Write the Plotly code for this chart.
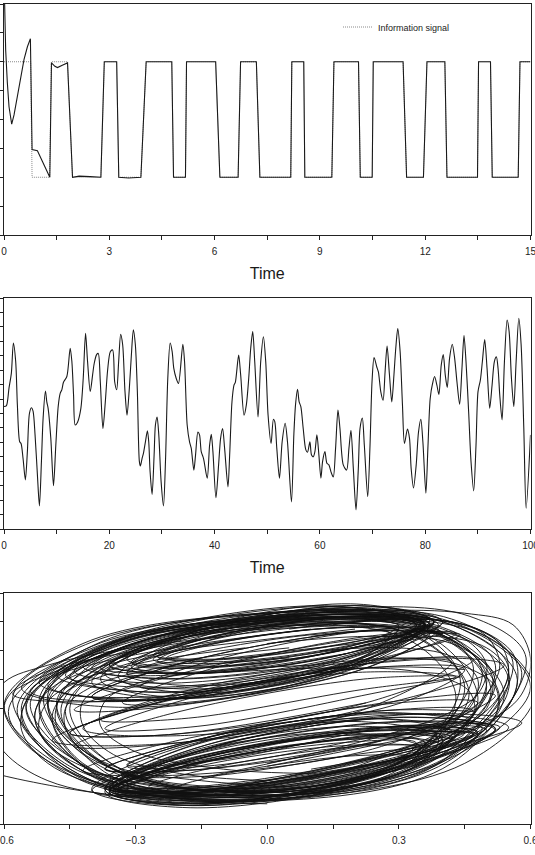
import plotly.graph_objects as go

# ---------------- Panel 1 : information signal vs recovered signal ----------------
info_t = [0, 0.76, 0.80, 1.30, 1.35, 1.81, 1.95, 2.76, 2.86, 3.21, 3.27, 3.90, 4.05, 4.78, 4.83,
          5.17, 5.20, 6.03, 6.15, 6.67, 6.74, 7.19, 7.29, 8.17, 8.20, 8.54, 8.57, 9.34, 9.40,
          10.10, 10.15, 10.49, 10.52, 11.37, 11.47, 11.95, 12.05, 12.56, 12.62, 13.49, 13.52,
          13.86, 13.91, 14.65, 14.70, 15.0]
info_v = [1, 1, 0, 0, 1, 1, 0, 0, 1, 1, 0, 0, 1, 1, 0,
          0, 1, 1, 0, 0, 1, 1, 0, 0, 1, 1, 0, 0, 1,
          1, 0, 0, 1, 1, 0, 0, 1, 1, 0, 0, 1,
          1, 0, 0, 1, 1]

rec_t_start = [0.0, 0.048, 0.095, 0.143, 0.219, 0.286, 0.381, 0.476, 0.571, 0.667, 0.752, 0.80,
               0.952, 1.305, 1.352, 1.45, 1.524, 1.66, 1.81, 1.952, 2.14, 2.45, 2.76, 2.857,
               3.21, 3.27, 3.55, 3.90, 4.05, 4.78]
rec_v_start = [1.75, 1.10, 0.82, 0.61, 0.46, 0.54, 0.70, 0.87, 1.02, 1.13, 1.20, 0.24,
               0.23, 0.0, 0.99, 0.96, 0.95, 0.97, 0.99, 0.0, 0.01, 0.005, 0.0, 1.0,
               1.0, 0.0, -0.006, 0.0, 1.0, 1.0]

# ---------------- Panel 2 : chaotic carrier ----------------
chaos_t = [0.0, 0.44, 0.95, 1.40, 1.78, 2.22, 2.54, 2.98, 3.24, 3.62, 4.06, 4.44, 4.83, 5.21, 5.52,
           5.90, 6.35, 6.73, 7.11, 7.43, 7.87, 8.13, 8.38, 8.89, 9.40, 9.84, 10.29, 10.67, 10.98,
           11.30, 11.94, 12.57, 12.89, 13.21, 13.52, 13.97, 14.60, 15.05, 15.49, 15.87, 16.38,
           16.83, 17.14, 17.59, 17.90, 18.29, 18.79, 19.24, 19.68, 20.19, 20.63, 21.02, 21.40,
           21.78, 22.16, 22.54, 22.98, 23.37, 23.81, 24.19, 24.57, 24.95, 25.33, 25.71, 25.90,
           26.22, 26.48, 26.86, 27.24, 27.49, 27.75, 28.13, 28.51, 28.76, 29.08, 29.40, 29.84,
           30.29, 30.67, 31.11, 31.56, 31.94, 32.25, 32.70, 33.14, 33.97, 34.29, 34.79, 35.24,
           35.56, 36.06, 36.38, 36.83, 37.14, 37.46, 37.90, 38.60, 39.05, 39.37, 39.68, 40.25,
           40.76, 41.14, 41.52, 41.90, 42.54, 42.86, 43.30, 43.68, 43.94, 44.57, 44.95, 45.59,
           46.03, 46.48, 46.86, 47.24, 47.62, 48.25, 48.76, 49.27, 49.71, 50.16, 50.73, 51.17,
           51.43, 51.81, 52.32, 52.83, 53.40, 53.84, 54.60, 55.05, 55.37, 55.75, 56.06, 56.38,
           56.83, 57.33, 57.65, 58.10, 58.41, 58.73, 59.05, 59.43, 59.81, 60.19, 60.51, 60.95,
           61.33, 61.71, 62.10, 62.54, 62.98, 63.43, 63.81, 64.44, 65.08, 65.52, 65.90, 66.35,
           66.86, 67.30, 67.62, 68.06, 68.44, 69.08, 69.52, 69.90, 70.29, 70.79, 71.11, 71.56,
           72.00, 72.38, 72.76, 73.21, 73.65, 74.10, 74.41, 74.79, 75.24, 75.68, 76.06, 76.63,
           77.02, 77.33, 77.78, 78.29, 78.73, 79.17, 79.56, 80.13, 80.51, 80.95, 81.40, 81.78,
           82.22, 82.60, 83.05, 83.43, 83.81, 84.19, 84.63, 85.14, 85.59, 86.03, 86.54, 86.98,
           87.37, 87.75, 88.25, 88.70, 89.21, 89.65, 90.03, 90.48, 90.86, 91.30, 91.75, 92.25,
           92.70, 93.14, 93.52, 93.84, 94.16, 94.60, 95.05, 95.56, 95.94, 96.38, 96.83, 97.27,
           97.78, 98.22, 98.73, 99.17, 100.0]
chaos_v = [0.12, 0.13, 0.44, 0.70, 1.22, 0.90, 0.15, -0.49, -0.52, -0.78, -1.15, -0.66, 0.00, 0.10, 0.04,
           -0.37, -1.07, -1.60, -0.83, -0.08, 0.39, 0.20, 0.09, -0.43, -1.25, -0.55, 0.12, 0.35, 0.41,
           0.54, 0.64, 1.13, 0.90, 0.32, -0.20, -0.15, 0.09, 0.61, 1.39, 0.90, 0.38,
           0.67, 0.87, 1.02, 1.04, 0.55, -0.26, 0.20, 0.75, 1.07, 1.10, 0.55, 0.41,
           0.90, 1.37, 1.19, 0.38, -0.03, 0.44, 1.01, 1.45, 1.19, 0.38, -0.83, -0.91,
           -0.78, -0.69, -0.49, -0.30, -0.49, -1.01, -1.40, -0.72, -0.20, -0.06, -0.37, -1.18,
           -1.60, -0.83, 0.61, 1.22, 1.07, 0.78, 0.61, 0.52, 1.20, 0.90, -0.20, -0.49,
           -0.60, -0.98, -0.72, -0.32, -0.37, -0.66, -0.78, -1.12, -0.55, -0.36, -0.66, -1.46,
           -0.89, -0.43, -0.26, -0.60, -1.27, -0.72, 0.20, 0.49, 0.54, 1.01, 0.67, -0.03,
           0.15, 0.61, 1.13, 1.42, 0.90, -0.06, 0.90, 1.33, 0.90, -0.03, -0.52, -0.10,
           -0.14, -0.60, -1.12, -0.49, -0.17, -0.49, -1.53, -0.37, 0.15, 0.42, 0.20, 0.12,
           -0.26, -0.63, -0.67, -0.49, -0.72, -0.75, -0.66, -0.37, -0.72, -1.12, -0.83, -0.66,
           -0.86, -0.89, -1.01, -1.10, -0.60, 0.06, -0.26, -0.89, -0.98, -0.60, -0.29, -0.95,
           -1.67, -0.95, -0.26, -0.08, -0.55, -1.44, -0.55, 0.55, 0.97, 0.81, 0.72, 0.38,
           0.23, 0.72, 1.17, 0.67, 0.20, 0.72, 1.13, 1.47, 1.07, 0.15, -0.52, -0.27,
           -0.43, -0.95, -1.29, -0.89, -0.32, -0.10, -0.49, -1.38, -0.60, 0.26, 0.52, 0.64,
           0.49, 0.33, 0.84, 1.02, 0.67, 0.45, 0.96, 1.20, 0.96, 0.55, 0.16, 0.78,
           1.35, 0.90, 0.03, -0.83, -1.34, -0.55, 0.38, 0.58, 0.90, 1.28, 0.78, 0.09,
           0.49, 0.90, 0.98, 0.78, 0.32, -0.11, 0.90, 1.62, 1.42, 0.61, 0.12, 0.90,
           1.65, 1.19, -0.26, -1.64, -0.37]

# ---------------- Panel 3 : phase portrait (loops) ----------------
upper_loops = [
    [(0.35, 0.58), (0.185, 0.619), (-0.145, 0.489), (-0.31, 0.32), (-0.145, 0.281), (0.185, 0.411)],
    [(0.38, 0.60), (0.19, 0.725), (-0.19, 0.525), (-0.38, 0.20), (-0.19, 0.075), (0.19, 0.275)],
    [(0.36, 0.58), (0.18, 0.64), (-0.18, 0.50), (-0.36, 0.30), (-0.18, 0.24), (0.18, 0.38)],
    [(0.40, 0.60), (0.175, 0.698), (-0.275, 0.478), (-0.50, 0.16), (-0.275, 0.062), (0.175, 0.282)],
    [(0.36, 0.58), (0.17, 0.652), (-0.21, 0.502), (-0.40, 0.28), (-0.21, 0.208), (0.17, 0.358)],
    [(0.38, 0.60), (0.20, 0.713), (-0.16, 0.523), (-0.34, 0.22), (-0.16, 0.107), (0.20, 0.297)],
    [(0.34, 0.58), (0.19, 0.607), (-0.11, 0.487), (-0.26, 0.34), (-0.11, 0.313), (0.19, 0.433)],
    [(0.38, 0.60), (0.15, 0.67), (-0.31, 0.43), (-0.54, 0.12), (-0.31, 0.05), (0.15, 0.29)],
    [(0.36, 0.58), (0.16, 0.665), (-0.24, 0.505), (-0.44, 0.26), (-0.24, 0.175), (0.16, 0.335)],
    [(0.40, 0.60), (0.20, 0.712), (-0.20, 0.502), (-0.40, 0.18), (-0.20, 0.068), (0.20, 0.278)],
    [(0.37, 0.58), (0.185, 0.685), (-0.185, 0.515), (-0.37, 0.24), (-0.185, 0.135), (0.185, 0.305)],
    [(0.39, 0.58), (0.18, 0.69), (-0.24, 0.51), (-0.45, 0.22), (-0.24, 0.11), (0.18, 0.29)],
    [(0.36, 0.57), (0.15, 0.685), (-0.27, 0.515), (-0.48, 0.23), (-0.27, 0.115), (0.15, 0.285)],
    [(0.38, 0.60), (0.205, 0.683), (-0.145, 0.503), (-0.32, 0.24), (-0.145, 0.157), (0.205, 0.337)],
    [(0.30, 0.57), (0.16, 0.598), (-0.12, 0.498), (-0.26, 0.37), (-0.12, 0.342), (0.16, 0.442)],
    [(0.38, 0.60), (0.14, 0.648), (-0.34, 0.398), (-0.58, 0.10), (-0.34, 0.052), (0.14, 0.302)],
    [(0.37, 0.59), (0.20, 0.636), (-0.14, 0.486), (-0.31, 0.29), (-0.14, 0.244), (0.20, 0.394)],
    [(0.36, 0.57), (0.165, 0.656), (-0.225, 0.516), (-0.42, 0.29), (-0.225, 0.204), (0.165, 0.344)],
    [(0.36, 0.58), (0.14, 0.705), (-0.30, 0.505), (-0.52, 0.18), (-0.30, 0.055), (0.14, 0.255)],
    [(0.35, 0.60), (0.20, 0.635), (-0.10, 0.515), (-0.25, 0.36), (-0.10, 0.325), (0.20, 0.445)],
    [(0.35, 0.58), (0.175, 0.654), (-0.175, 0.524), (-0.35, 0.32), (-0.175, 0.246), (0.175, 0.376)],
    [(0.36, 0.60), (0.175, 0.633), (-0.195, 0.473), (-0.38, 0.28), (-0.195, 0.247), (0.175, 0.407)],
    [(0.36, 0.58), (0.13, 0.712), (-0.33, 0.492), (-0.56, 0.14), (-0.33, 0.008), (0.13, 0.228)],
    [(0.37, 0.61), (0.215, 0.644), (-0.095, 0.504), (-0.25, 0.33), (-0.095, 0.296), (0.215, 0.436)],
    [(0.36, 0.59), (0.155, 0.673), (-0.255, 0.493), (-0.46, 0.23), (-0.255, 0.147), (0.155, 0.327)],
    [(0.34, 0.58), (0.175, 0.633), (-0.155, 0.513), (-0.32, 0.34), (-0.155, 0.287), (0.175, 0.407)],
    [(0.36, 0.58), (0.18, 0.64), (-0.18, 0.50), (-0.36, 0.30), (-0.18, 0.24), (0.18, 0.38)],
]
upper_mid_loops = [
    [(0.40, 0.52), (0.20, 0.531), (-0.20, 0.311), (-0.40, 0.08), (-0.20, 0.069), (0.20, 0.289)],
    [(0.43, 0.52), (0.24, 0.504), (-0.14, 0.264), (-0.33, 0.04), (-0.14, 0.056), (0.24, 0.296)],
    [(0.37, 0.52), (0.16, 0.559), (-0.26, 0.359), (-0.47, 0.12), (-0.26, 0.081), (0.16, 0.281)],
    [(0.44, 0.51), (0.22, 0.484), (-0.22, 0.224), (-0.44, -0.01), (-0.22, 0.016), (0.22, 0.276)],
    [(0.39, 0.55), (0.22, 0.537), (-0.12, 0.337), (-0.29, 0.15), (-0.12, 0.163), (0.22, 0.363)],
    [(0.28, 0.52), (0.13, 0.519), (-0.17, 0.379), (-0.32, 0.24), (-0.17, 0.241), (0.13, 0.381)],
    [(0.29, 0.55), (0.16, 0.561), (-0.10, 0.461), (-0.23, 0.35), (-0.10, 0.339), (0.16, 0.439)],
    [(0.30, 0.54), (0.15, 0.558), (-0.15, 0.438), (-0.30, 0.30), (-0.15, 0.282), (0.15, 0.402)],
    [(0.40, 0.52), (0.20, 0.531), (-0.20, 0.311), (-0.40, 0.08), (-0.20, 0.069), (0.20, 0.289)],
]
center_loops = [
    [(0.45, 0.27), (0.225, 0.281), (-0.225, 0.061), (-0.45, -0.17), (-0.225, -0.181), (0.225, 0.039)],
    [(0.47, 0.34), (0.26, 0.324), (-0.16, 0.084), (-0.37, -0.14), (-0.16, -0.124), (0.26, 0.116)],
    [(0.43, 0.22), (0.20, 0.249), (-0.26, 0.029), (-0.49, -0.22), (-0.26, -0.249), (0.20, -0.029)],
    [(0.42, 0.32), (0.22, 0.307), (-0.18, 0.107), (-0.38, -0.08), (-0.18, -0.067), (0.22, 0.133)],
    [(0.44, 0.22), (0.22, 0.204), (-0.22, -0.036), (-0.44, -0.26), (-0.22, -0.244), (0.22, -0.004)],
    [(0.54, 0.30), (0.30, 0.346), (-0.18, 0.126), (-0.42, -0.14), (-0.18, -0.186), (0.30, 0.034)],
    [(0.45, 0.27), (0.225, 0.281), (-0.225, 0.061), (-0.45, -0.17), (-0.225, -0.181), (0.225, 0.039)],
]
lower_loops = [
    [(0.45, -0.17), (0.25, -0.152), (-0.15, -0.342), (-0.35, -0.55), (-0.15, -0.568), (0.25, -0.378)],
    [(0.47, -0.18), (0.26, -0.072), (-0.16, -0.272), (-0.37, -0.58), (-0.16, -0.688), (0.26, -0.488)],
    [(0.48, -0.17), (0.27, -0.131), (-0.15, -0.331), (-0.36, -0.57), (-0.15, -0.609), (0.27, -0.409)],
    [(0.52, -0.14), (0.30, -0.06), (-0.14, -0.28), (-0.36, -0.58), (-0.14, -0.66), (0.30, -0.44)],
    [(0.42, -0.20), (0.23, -0.195), (-0.15, -0.375), (-0.34, -0.56), (-0.15, -0.565), (0.23, -0.385)],
    [(0.43, -0.18), (0.23, -0.067), (-0.17, -0.257), (-0.37, -0.56), (-0.17, -0.673), (0.23, -0.483)],
    [(0.52, -0.15), (0.30, -0.094), (-0.14, -0.294), (-0.36, -0.55), (-0.14, -0.606), (0.30, -0.406)],
    [(0.55, -0.13), (0.325, -0.04), (-0.125, -0.24), (-0.35, -0.53), (-0.125, -0.62), (0.325, -0.42)],
    [(0.39, -0.21), (0.205, -0.208), (-0.165, -0.378), (-0.35, -0.55), (-0.165, -0.552), (0.205, -0.382)],
    [(0.40, -0.20), (0.20, -0.09), (-0.20, -0.27), (-0.40, -0.56), (-0.20, -0.67), (0.20, -0.49)],
    [(0.50, -0.15), (0.285, -0.125), (-0.145, -0.335), (-0.36, -0.57), (-0.145, -0.595), (0.285, -0.385)],
    [(0.49, -0.14), (0.275, -0.028), (-0.155, -0.238), (-0.37, -0.56), (-0.155, -0.672), (0.275, -0.462)],
    [(0.36, -0.24), (0.18, -0.216), (-0.18, -0.376), (-0.36, -0.56), (-0.18, -0.584), (0.18, -0.424)],
    [(0.58, -0.10), (0.35, -0.037), (-0.11, -0.257), (-0.34, -0.54), (-0.11, -0.603), (0.35, -0.383)],
    [(0.52, -0.14), (0.31, -0.062), (-0.11, -0.252), (-0.32, -0.52), (-0.11, -0.598), (0.31, -0.408)],
    [(0.40, -0.22), (0.21, -0.123), (-0.17, -0.293), (-0.36, -0.56), (-0.17, -0.657), (0.21, -0.487)],
    [(0.43, -0.19), (0.23, -0.159), (-0.17, -0.339), (-0.37, -0.55), (-0.17, -0.581), (0.23, -0.401)],
    [(0.47, -0.18), (0.265, -0.176), (-0.145, -0.376), (-0.35, -0.58), (-0.145, -0.584), (0.265, -0.384)],
    [(0.50, -0.13), (0.275, -0.093), (-0.175, -0.313), (-0.40, -0.57), (-0.175, -0.607), (0.275, -0.387)],
    [(0.34, -0.24), (0.17, -0.237), (-0.17, -0.387), (-0.34, -0.54), (-0.17, -0.543), (0.17, -0.393)],
    [(0.48, -0.16), (0.28, -0.139), (-0.12, -0.339), (-0.32, -0.56), (-0.12, -0.581), (0.28, -0.381)],
    [(0.43, -0.23), (0.235, -0.176), (-0.155, -0.346), (-0.35, -0.57), (-0.155, -0.624), (0.235, -0.454)],
    [(0.40, -0.26), (0.21, -0.184), (-0.17, -0.344), (-0.36, -0.58), (-0.17, -0.656), (0.21, -0.496)],
    [(0.53, -0.13), (0.31, -0.122), (-0.13, -0.332), (-0.35, -0.55), (-0.13, -0.558), (0.31, -0.348)],
    [(0.35, -0.27), (0.175, -0.167), (-0.175, -0.307), (-0.35, -0.55), (-0.175, -0.653), (0.175, -0.513)],
    [(0.48, -0.18), (0.27, -0.18), (-0.15, -0.37), (-0.36, -0.56), (-0.15, -0.56), (0.27, -0.37)],
    [(0.45, -0.17), (0.25, -0.152), (-0.15, -0.342), (-0.35, -0.55), (-0.15, -0.568), (0.25, -0.378)],
]
lower_mid_loops = [
    [(0.47, -0.02), (0.26, -0.016), (-0.16, -0.216), (-0.37, -0.42), (-0.16, -0.424), (0.26, -0.224)],
    [(0.48, 0.04), (0.28, 0.034), (-0.12, -0.186), (-0.32, -0.40), (-0.12, -0.394), (0.28, -0.174)],
    [(0.46, -0.07), (0.24, -0.039), (-0.20, -0.219), (-0.42, -0.43), (-0.20, -0.461), (0.24, -0.281)],
    [(0.52, 0.09), (0.31, 0.057), (-0.11, -0.183), (-0.32, -0.39), (-0.11, -0.357), (0.31, -0.117)],
    [(0.41, -0.14), (0.23, -0.133), (-0.13, -0.293), (-0.31, -0.46), (-0.13, -0.467), (0.23, -0.307)],
    [(0.37, -0.26), (0.21, -0.261), (-0.11, -0.401), (-0.27, -0.54), (-0.11, -0.539), (0.21, -0.399)],
    [(0.33, -0.33), (0.19, -0.329), (-0.09, -0.449), (-0.23, -0.57), (-0.09, -0.571), (0.19, -0.451)],
    [(0.34, -0.27), (0.17, -0.258), (-0.17, -0.408), (-0.34, -0.57), (-0.17, -0.582), (0.17, -0.432)],
    [(0.47, -0.02), (0.26, -0.016), (-0.16, -0.216), (-0.37, -0.42), (-0.16, -0.424), (0.26, -0.224)],
]
big_loops = [
    [(0.55, 0.20), (0.40, 0.55), (0.00, 0.62), (-0.38, 0.42), (-0.55, 0.00), (-0.38, -0.45), (0.00, -0.60), (0.38, -0.35), (0.55, 0.20)],
    [(0.50, 0.15), (0.38, 0.52), (0.02, 0.60), (-0.35, 0.40), (-0.50, 0.02), (-0.35, -0.42), (0.02, -0.58), (0.35, -0.33), (0.50, 0.15)],
    [(0.58, 0.25), (0.42, 0.60), (0.00, 0.66), (-0.42, 0.45), (-0.60, 0.02), (-0.42, -0.48), (0.00, -0.63), (0.40, -0.36), (0.58, 0.25)],
    [(0.46, 0.10), (0.34, 0.50), (0.00, 0.58), (-0.32, 0.38), (-0.46, -0.02), (-0.32, -0.44), (0.02, -0.57), (0.33, -0.32), (0.46, 0.10)],
    [(0.52, 0.30), (0.36, 0.60), (-0.02, 0.62), (-0.40, 0.40), (-0.56, -0.05), (-0.40, -0.50), (-0.02, -0.62), (0.36, -0.36), (0.52, 0.30)],
    [(0.48, 0.05), (0.38, 0.48), (0.05, 0.58), (-0.30, 0.42), (-0.48, 0.05), (-0.36, -0.40), (0.00, -0.55), (0.36, -0.30), (0.48, 0.05)],
    [(0.60, 0.15), (0.45, 0.56), (0.05, 0.64), (-0.36, 0.44), (-0.52, 0.06), (-0.40, -0.44), (-0.02, -0.60), (0.42, -0.34), (0.60, 0.15)],
    [(0.44, 0.20), (0.33, 0.55), (-0.05, 0.60), (-0.40, 0.38), (-0.53, -0.06), (-0.38, -0.50), (0.02, -0.63), (0.34, -0.30), (0.44, 0.20)],
    [(0.54, 0.10), (0.40, 0.50), (0.03, 0.57), (-0.34, 0.36), (-0.47, 0.00), (-0.36, -0.46), (0.03, -0.60), (0.40, -0.37), (0.54, 0.10)],
    [(0.56, 0.32), (0.42, 0.62), (0.02, 0.66), (-0.40, 0.46), (-0.58, 0.08), (-0.45, -0.40), (-0.05, -0.60), (0.38, -0.40), (0.56, 0.32)],
    [(0.50, 0.22), (0.36, 0.56), (-0.02, 0.61), (-0.38, 0.40), (-0.52, 0.00), (-0.38, -0.47), (0.00, -0.61), (0.37, -0.35), (0.50, 0.22)],
    [(0.47, 0.28), (0.35, 0.58), (0.00, 0.63), (-0.36, 0.45), (-0.50, 0.10), (-0.42, -0.38), (-0.05, -0.57), (0.32, -0.34), (0.47, 0.28)],
    [(0.53, 0.05), (0.42, 0.48), (0.06, 0.56), (-0.32, 0.38), (-0.49, -0.05), (-0.37, -0.50), (0.05, -0.62), (0.42, -0.32), (0.53, 0.05)],
    [(0.59, 0.35), (0.46, 0.64), (0.08, 0.68), (-0.38, 0.46), (-0.57, 0.00), (-0.42, -0.47), (0.00, -0.64), (0.42, -0.38), (0.59, 0.35)],
    [(0.45, 0.15), (0.32, 0.52), (-0.04, 0.58), (-0.36, 0.38), (-0.48, 0.00), (-0.34, -0.44), (0.00, -0.57), (0.32, -0.34), (0.45, 0.15)],
    [(0.51, 0.12), (0.38, 0.53), (0.01, 0.60), (-0.37, 0.40), (-0.54, 0.04), (-0.40, -0.43), (-0.02, -0.59), (0.37, -0.31), (0.51, 0.12)],
    [(0.57, 0.20), (0.42, 0.58), (0.03, 0.63), (-0.40, 0.43), (-0.59, -0.02), (-0.43, -0.49), (-0.01, -0.64), (0.41, -0.37), (0.57, 0.20)],
    [(0.49, 0.25), (0.37, 0.57), (0.00, 0.60), (-0.34, 0.40), (-0.50, 0.06), (-0.36, -0.41), (0.02, -0.56), (0.35, -0.30), (0.49, 0.25)],
    [(0.43, 0.08), (0.32, 0.48), (-0.02, 0.56), (-0.33, 0.36), (-0.45, 0.00), (-0.33, -0.43), (0.03, -0.58), (0.33, -0.36), (0.43, 0.08)],
    [(0.55, 0.28), (0.40, 0.60), (0.00, 0.64), (-0.39, 0.42), (-0.55, 0.04), (-0.41, -0.45), (-0.01, -0.61), (0.39, -0.34), (0.55, 0.28)],
    [(0.52, 0.18), (0.39, 0.54), (0.02, 0.61), (-0.35, 0.43), (-0.51, 0.08), (-0.38, -0.40), (0.01, -0.58), (0.36, -0.33), (0.52, 0.18)],
    [(0.61, 0.10), (0.50, 0.50), (0.10, 0.62), (-0.35, 0.44), (-0.56, 0.02), (-0.44, -0.46), (-0.04, -0.63), (0.45, -0.38), (0.61, 0.10)],
]
right_arcs = [
    [(0.0, 0.64), (0.25, 0.68), (0.45, 0.66), (0.56, 0.58), (0.60, 0.35), (0.58, 0.10), (0.52, -0.06), (0.40, -0.20), (0.20, -0.36), (0.0, -0.50), (-0.20, -0.60)],
    [(0.05, 0.55), (0.30, 0.62), (0.45, 0.58), (0.53, 0.45), (0.55, 0.25), (0.52, 0.05), (0.45, -0.12), (0.30, -0.28), (0.10, -0.44), (-0.10, -0.55)],
    [(0.10, 0.50), (0.32, 0.55), (0.45, 0.48), (0.50, 0.30), (0.48, 0.10), (0.40, -0.05), (0.25, -0.20), (0.05, -0.35), (-0.15, -0.48)],
    [(0.0, 0.45), (0.25, 0.50), (0.42, 0.45), (0.51, 0.25), (0.50, 0.0), (0.43, -0.15), (0.30, -0.30), (0.10, -0.42)],
    [(0.10, 0.30), (0.30, 0.35), (0.44, 0.30), (0.52, 0.15), (0.52, -0.05), (0.47, -0.18), (0.35, -0.30), (0.15, -0.45), (-0.05, -0.56)],
    [(0.15, 0.58), (0.35, 0.62), (0.48, 0.55), (0.56, 0.38), (0.57, 0.18), (0.54, -0.02), (0.46, -0.16), (0.30, -0.30), (0.10, -0.45)],
    [(-0.10, 0.25), (0.15, 0.28), (0.35, 0.25), (0.46, 0.12), (0.47, -0.05), (0.40, -0.15), (0.25, -0.25), (0.0, -0.40)],
    [(0.20, 0.45), (0.38, 0.50), (0.50, 0.42), (0.55, 0.25), (0.54, 0.05), (0.48, -0.12), (0.36, -0.25), (0.18, -0.38)],
    [(0.12, 0.40), (0.30, 0.42), (0.42, 0.36), (0.48, 0.20), (0.46, 0.0), (0.38, -0.12), (0.20, -0.26), (0.0, -0.38)],
    [(0.25, 0.62), (0.42, 0.60), (0.50, 0.50), (0.53, 0.30), (0.50, 0.10), (0.44, -0.06), (0.30, -0.22)],
]
left_arcs = [
    [(0.0, -0.62), (-0.25, -0.58), (-0.42, -0.48), (-0.55, -0.25), (-0.60, 0.0), (-0.57, 0.15), (-0.48, 0.28), (-0.30, 0.40), (-0.05, 0.52), (0.20, 0.60)],
    [(0.05, -0.58), (-0.20, -0.55), (-0.38, -0.45), (-0.50, -0.25), (-0.53, -0.05), (-0.50, 0.12), (-0.42, 0.25), (-0.25, 0.38), (0.0, 0.48), (0.20, 0.55)],
    [(-0.10, -0.60), (-0.30, -0.55), (-0.45, -0.38), (-0.52, -0.15), (-0.50, 0.05), (-0.42, 0.20), (-0.28, 0.32), (-0.05, 0.42)],
    [(0.10, -0.55), (-0.15, -0.50), (-0.35, -0.40), (-0.45, -0.20), (-0.46, 0.0), (-0.40, 0.15), (-0.25, 0.28), (0.0, 0.38), (0.20, 0.45)],
    [(-0.05, -0.64), (-0.30, -0.62), (-0.50, -0.50), (-0.60, -0.30), (-0.64, -0.05), (-0.60, 0.18), (-0.50, 0.30), (-0.35, 0.40), (-0.10, 0.50)],
    [(0.0, -0.50), (-0.20, -0.45), (-0.35, -0.32), (-0.42, -0.12), (-0.42, 0.05), (-0.35, 0.18), (-0.20, 0.28), (0.05, 0.35)],
    [(-0.15, -0.62), (-0.35, -0.56), (-0.50, -0.38), (-0.56, -0.15), (-0.55, 0.05), (-0.50, 0.20), (-0.38, 0.32), (-0.15, 0.45), (0.10, 0.55)],
    [(0.10, -0.45), (-0.10, -0.42), (-0.30, -0.30), (-0.38, -0.12), (-0.37, 0.05), (-0.30, 0.17), (-0.15, 0.25), (0.10, 0.30)],
    [(0.0, -0.66), (-0.20, -0.64), (-0.40, -0.58), (-0.55, -0.50), (-0.65, -0.43)],
    [(-0.05, -0.55), (-0.25, -0.50), (-0.40, -0.35), (-0.48, -0.12), (-0.47, 0.08), (-0.38, 0.22), (-0.20, 0.33), (0.05, 0.42)],
]

# ---------------- build figure ----------------
FONT = "Arial, 'Liberation Sans', Helvetica, sans-serif"
INK = "#1a1a1a"
TXT = "#222222"

rec_t = rec_t_start + [t for t in info_t if t > 4.79]
rec_v = rec_v_start + [v for t, v in zip(info_t, info_v) if t > 4.79]


def chain(loops):
    xs, ys = [], []
    for lp in loops:
        for x, y in lp:
            xs.append(x)
            ys.append(y)
    return xs, ys


def separate(arcs):
    xs, ys = [], []
    for lp in arcs:
        for x, y in lp:
            xs.append(x)
            ys.append(y)
        xs.append(None)
        ys.append(None)
    return xs, ys


fig = go.Figure()

fig.add_trace(go.Scatter(x=info_t, y=info_v, mode="lines", name="Information signal",
                         line=dict(color="#8a8a8a", width=1, dash="1px,1px"),
                         xaxis="x", yaxis="y", showlegend=True))
fig.add_trace(go.Scatter(x=rec_t, y=rec_v, mode="lines", name="Recovered signal",
                         line=dict(color=INK, width=1.1),
                         xaxis="x", yaxis="y", showlegend=False))

fig.add_trace(go.Scatter(x=chaos_t, y=chaos_v, mode="lines",
                         line=dict(color=INK, width=1.1, shape="spline", smoothing=0.8),
                         xaxis="x2", yaxis="y2", showlegend=False))

for grp, fn in ((upper_loops, chain), (upper_mid_loops, chain), (center_loops, chain),
                (lower_loops, chain), (lower_mid_loops, chain), (big_loops, separate),
                (right_arcs, separate), (left_arcs, separate)):
    xs, ys = fn(grp)
    fig.add_trace(go.Scatter(x=xs, y=ys, mode="lines", connectgaps=False,
                             line=dict(color="#111111", width=0.9, shape="spline", smoothing=1.0),
                             xaxis="x3", yaxis="y3", showlegend=False))

W, H = 535, 855
xdom = [4 / W, 530.5 / W]


def ydom(top, bottom):
    return [(H - bottom) / H, (H - top) / H]


axis_common = dict(showline=True, linecolor="#222222", linewidth=1, mirror=True,
                   ticks="outside", ticklen=4, tickwidth=1, tickcolor="#222222",
                   showgrid=False, zeroline=False, ticklabeloverflow="allow",
                   automargin=False,
                   tickfont=dict(family=FONT, size=10, color=TXT))
minor_common = dict(ticks="outside", ticklen=4, tickcolor="#222222", showgrid=False)
title_font = dict(family=FONT, size=16, color=INK)

fig.update_layout(
    width=W, height=H,
    margin=dict(l=0, r=0, t=0, b=0, autoexpand=False),
    paper_bgcolor="white", plot_bgcolor="white",
    font=dict(family=FONT, color=INK),
    xaxis=dict(domain=xdom, anchor="y", range=[0, 15], tick0=0, dtick=3,
               minor=dict(dtick=1.5, **minor_common), ticklabelstandoff=3,
               title=dict(text="Time", font=title_font, standoff=11),
               **axis_common),
    yaxis=dict(domain=ydom(4, 235), anchor="x", range=[-0.5, 1.5], tick0=0, dtick=0.25,
               showticklabels=False, **axis_common),
    xaxis2=dict(domain=xdom, anchor="y2", range=[0, 100], tick0=0, dtick=20,
                minor=dict(dtick=10, **minor_common), ticklabelstandoff=3,
                title=dict(text="Time", font=title_font, standoff=11),
                **axis_common),
    yaxis2=dict(domain=ydom(298, 529), anchor="x2", range=[-2, 2], tick0=0, dtick=0.25,
                showticklabels=False, **axis_common),
    xaxis3=dict(domain=xdom, anchor="y3", range=[-0.6, 0.6], tick0=0, dtick=0.3, tickformat=".1f",
                minor=dict(dtick=0.15, **minor_common), ticklabelstandoff=3,
                **axis_common),
    yaxis3=dict(domain=ydom(593, 824), anchor="x3", range=[-0.8, 0.8], tick0=0, dtick=0.2,
                showticklabels=False, **axis_common),
    legend=dict(x=338 / W, y=(H - 27) / H, xanchor="left", yanchor="middle",
                bgcolor="rgba(0,0,0,0)", borderwidth=0, itemwidth=30,
                font=dict(family=FONT, size=9, color=TXT)),
    showlegend=True,
)

fig.write_html("out.html")
